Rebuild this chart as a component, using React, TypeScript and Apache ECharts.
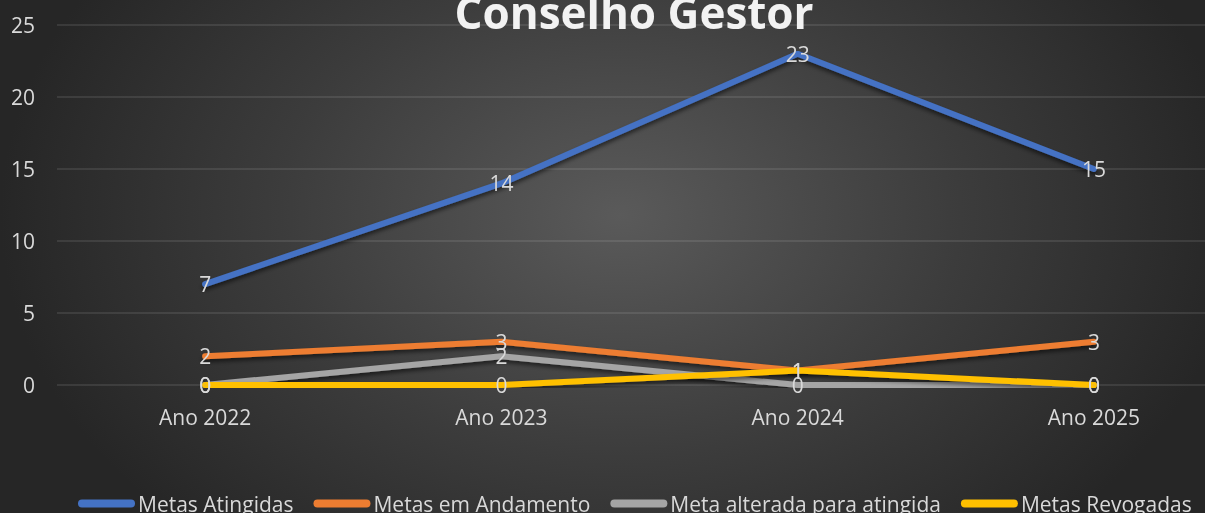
import React, { useEffect, useRef } from "react";
import * as echarts from "echarts";

const categories = ["Ano 2022", "Ano 2023", "Ano 2024", "Ano 2025"];
const metasAtingidas = [7, 14, 23, 15];
const metasAndamento = [2, 3, 1, 3];
const metaAlterada = [0, 2, 0, 0];
const metasRevogadas = [0, 0, 1, 0];
const seriesNames = ["Metas Atingidas", "Metas em Andamento", "Meta alterada para atingida", "Metas Revogadas"];
const seriesColors = ["#4472C4", "#ED7D31", "#A5A5A5", "#FFC000"];
const titleText = "Conselho Gestor";

const FONT = "'Open Sans', 'Noto Sans', sans-serif";
const TEXT = "#d9d9d9";

export default function App() {
  const ref = useRef<HTMLDivElement>(null);
  useEffect(() => {
    if (!ref.current) return;
    const chart = echarts.init(ref.current, undefined, { renderer: "svg" });
    const data = [metasAtingidas, metasAndamento, metaAlterada, metasRevogadas];
    chart.setOption({
      animation: false,
      backgroundColor: "transparent",
      textStyle: { fontFamily: FONT },
      graphic: [
        {
          type: "text",
          x: 634,
          y: 12,
          z: 10,
          style: {
            text: titleText,
            fill: "#f2f2f2",
            font: `bold 44px ${FONT}`,
            textAlign: "center",
            textVerticalAlign: "middle",
            shadowColor: "rgba(0,0,0,0.6)",
            shadowBlur: 4,
            shadowOffsetX: 1,
            shadowOffsetY: 2,
          },
        },
      ],
      legend: {
        left: 73,
        top: 488,
        itemWidth: 57,
        itemHeight: 8,
        itemGap: 20,
        icon: "path://M4,0 H53 A4,4 0 0 1 53,8 H4 A4,4 0 0 1 4,0 Z",
        textStyle: { color: TEXT, fontSize: 21, fontFamily: FONT, padding: [0, 0, 0, -2] },
        data: seriesNames,
      },
      grid: { left: 57, right: 0, top: 25, bottom: 128, containLabel: false },
      xAxis: {
        type: "category",
        data: categories,
        boundaryGap: true,
        axisLine: { show: false },
        axisTick: { show: false },
        axisLabel: { color: TEXT, fontSize: 21, fontFamily: FONT, margin: 21 },
        splitLine: { show: false },
      },
      yAxis: {
        type: "value",
        min: 0,
        max: 25,
        interval: 5,
        axisLine: { show: false },
        axisTick: { show: false },
        axisLabel: { color: TEXT, fontSize: 21, fontFamily: FONT, margin: 22 },
        splitLine: { lineStyle: { color: "rgba(255,255,255,0.13)", width: 1.5 } },
      },
      series: data.map((d, i) => ({
        name: seriesNames[i],
        type: "line",
        data: d,
        symbol: "circle",
        symbolSize: 1,
        showSymbol: true,
        color: seriesColors[i],
        itemStyle: { color: seriesColors[i] },
        lineStyle: {
          color: seriesColors[i],
          width: 6,
          cap: "round",
          shadowColor: "rgba(0,0,0,0.55)",
          shadowBlur: 4,
          shadowOffsetY: 3,
        },
        label: {
          show: true,
          position: "inside",
          color: TEXT,
          fontSize: 21,
          fontFamily: FONT,
        },
        labelLayout: { hideOverlap: false },
      })),
    });
    return () => chart.dispose();
  }, []);
  return (
    <div
      ref={ref}
      style={{
        position: "fixed",
        left: 0,
        top: 0,
        width: 1242,
        height: 513,
        background:
          "radial-gradient(ellipse 620px 440px at 620px 215px, #5a5a5a 0%, #3c3c3c 55%, #262626 100%)",
      }}
    />
  );
}
